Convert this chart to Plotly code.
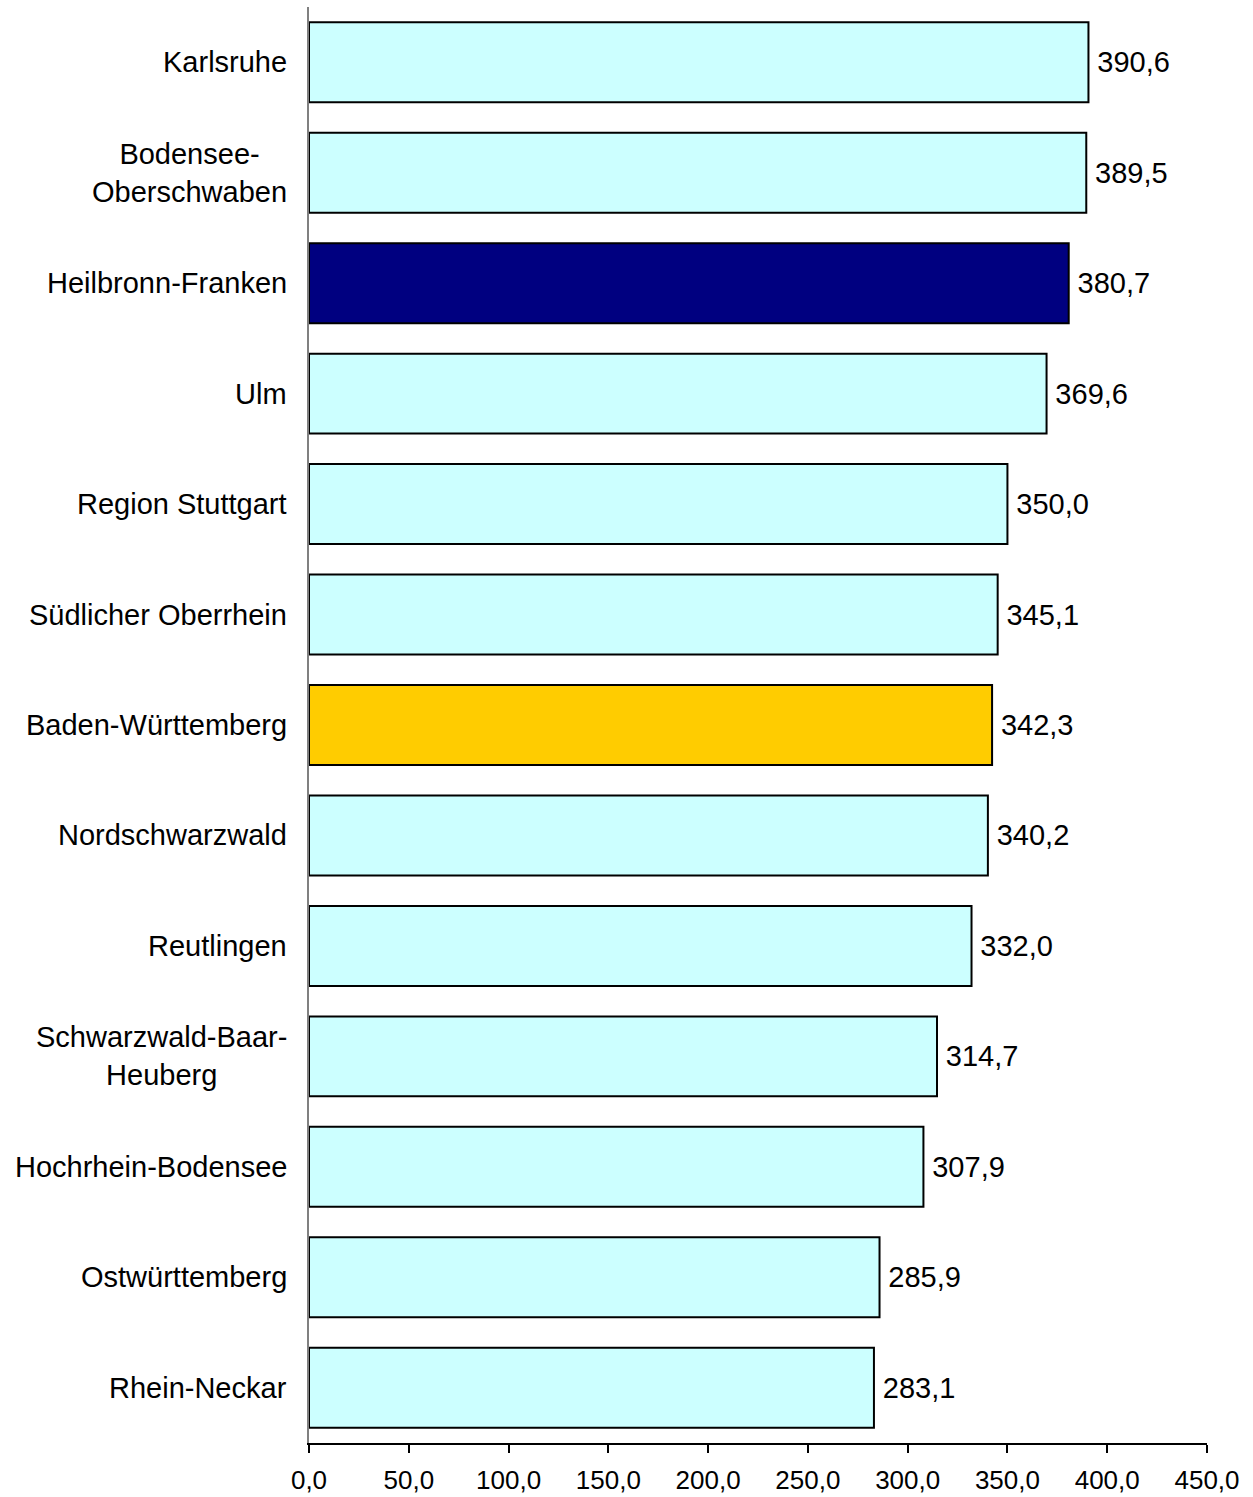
import plotly.graph_objects as go

categories = ["Karlsruhe", "Bodensee-<br>Oberschwaben", "Heilbronn-Franken", "Ulm",
              "Region Stuttgart", "Südlicher Oberrhein", "Baden-Württemberg",
              "Nordschwarzwald", "Reutlingen", "Schwarzwald-Baar-<br>Heuberg",
              "Hochrhein-Bodensee", "Ostwürttemberg", "Rhein-Neckar"]
values = [390.6, 389.5, 380.7, 369.6, 350.0, 345.1, 342.3, 340.2, 332.0, 314.7, 307.9, 285.9, 283.1]
colors = ["#CCFFFF", "#CCFFFF", "#000080", "#CCFFFF", "#CCFFFF", "#CCFFFF", "#FFCC00",
          "#CCFFFF", "#CCFFFF", "#CCFFFF", "#CCFFFF", "#CCFFFF", "#CCFFFF"]
tick_vals = [0, 50, 100, 150, 200, 250, 300, 350, 400, 450]

FONT = "Liberation Sans, Arial, sans-serif"
ids = list(range(len(categories)))

fig = go.Figure()
fig.add_trace(go.Bar(
    y=ids, x=values, orientation="h",
    marker=dict(color=colors, line=dict(color="black", width=2)),
    texttemplate="\u2009%{x:.1f}", textposition="outside",
    textfont=dict(family=FONT, size=29, color="black"),
    cliponaxis=False,
))

for i, c in enumerate(categories):
    fig.add_annotation(x=0, xref="paper", xanchor="right", xshift=-20,
                       y=i, yref="y", text=c, showarrow=False, align="center",
                       font=dict(family=FONT, size=29, color="black"))

fig.update_layout(
    width=1253, height=1497,
    margin=dict(l=309, r=46, t=7, b=54),
    paper_bgcolor="white", plot_bgcolor="white",
    separators=",.",
    bargap=0.276,
    showlegend=False,
    font=dict(family=FONT, size=26, color="black"),
    xaxis=dict(range=[0, 450], tickvals=tick_vals, tickformat=".1f", automargin=False,
               showgrid=False, zeroline=False, showline=True, linecolor="black", linewidth=1.5,
               ticks="outside", ticklen=8, tickwidth=1.5, tickcolor="black",
               ticklabelstandoff=5,
               tickfont=dict(family=FONT, size=26, color="black")),
    yaxis=dict(range=[12.5, -0.5], showticklabels=False, showgrid=False, zeroline=False,
               automargin=False,
               showline=True, linecolor="#808080", linewidth=1.5, ticks=""),
)

fig.write_html("out.html", config={"displayModeBar": False},
               post_script="document.body.style.margin='0';document.body.style.overflow='hidden';")
